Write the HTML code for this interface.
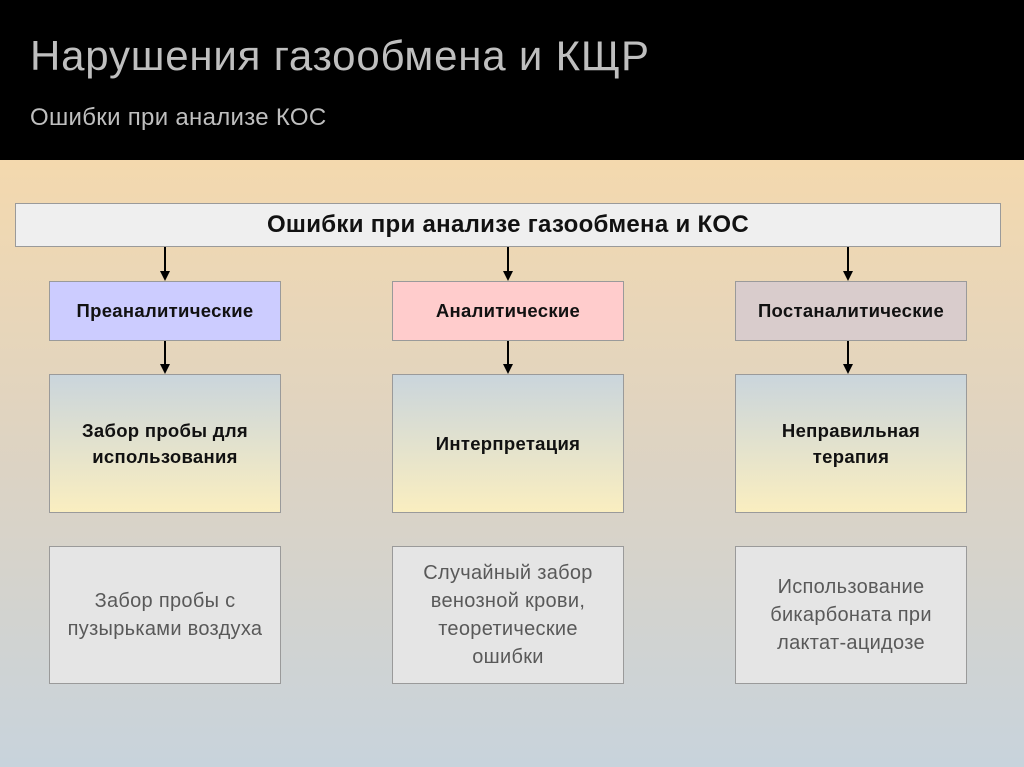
<!DOCTYPE html>
<html><head><meta charset="utf-8"><style>
body{margin:0;width:1024px;height:767px;overflow:hidden;font-family:"Liberation Sans","Noto Sans CJK SC",sans-serif;position:relative;background:linear-gradient(#f4d9ae 160px,#dcd3c4 470px,#c8d3dc 767px)}
.hdr{position:absolute;left:0;top:0;width:1024px;height:160px;background:#000}
.t1{position:absolute;left:30px;top:32px;font-size:42px;letter-spacing:0.8px;color:#bfbfbf}
.t2{position:absolute;left:30px;top:104px;font-size:24px;letter-spacing:0.3px;color:#bfbfbf}
.b{position:absolute;box-sizing:border-box;border:1.5px solid #9a9a9a;display:flex;align-items:center;justify-content:center;text-align:center}
.bold{font-weight:bold;color:#111;font-size:18.5px;line-height:26px;letter-spacing:0.3px}
.mid{background:linear-gradient(#cad5dc,#faeec0)}
.low{background:#e5e5e5;color:#595959;font-size:20px;line-height:28px;letter-spacing:0.3px}
.a{position:absolute;width:1.5px;background:#000}
.h{position:absolute;width:0;height:0;border-left:5px solid transparent;border-right:5px solid transparent;border-top:10px solid #000}
</style></head><body>
<div class="hdr"></div>
<div class="t1">Нарушения газообмена и КЩР</div>
<div class="t2">Ошибки при анализе КОС</div>
<div class="b bold" style="left:15px;top:203px;width:986px;height:44px;background:#efefef;font-size:24px">Ошибки при анализе газообмена и КОС</div>

<div class="a" style="left:164px;top:247px;height:26px"></div><div class="h" style="left:160px;top:271px"></div>
<div class="a" style="left:507px;top:247px;height:26px"></div><div class="h" style="left:503px;top:271px"></div>
<div class="a" style="left:847px;top:247px;height:26px"></div><div class="h" style="left:843px;top:271px"></div>

<div class="b bold" style="left:49px;top:281px;width:232px;height:60px;background:#ccccff">Преаналитические</div>
<div class="b bold" style="left:392px;top:281px;width:232px;height:60px;background:#ffcccc">Аналитические</div>
<div class="b bold" style="left:735px;top:281px;width:232px;height:60px;background:#d9cccc">Постаналитические</div>

<div class="a" style="left:164px;top:341px;height:25px"></div><div class="h" style="left:160px;top:364px"></div>
<div class="a" style="left:507px;top:341px;height:25px"></div><div class="h" style="left:503px;top:364px"></div>
<div class="a" style="left:847px;top:341px;height:25px"></div><div class="h" style="left:843px;top:364px"></div>

<div class="b bold mid" style="left:49px;top:374px;width:232px;height:139px">Забор пробы для<br>использования</div>
<div class="b bold mid" style="left:392px;top:374px;width:232px;height:139px">Интерпретация</div>
<div class="b bold mid" style="left:735px;top:374px;width:232px;height:139px">Неправильная<br>терапия</div>

<div class="b low" style="left:49px;top:546px;width:232px;height:138px">Забор пробы с<br>пузырьками воздуха</div>
<div class="b low" style="left:392px;top:546px;width:232px;height:138px">Случайный забор<br>венозной крови,<br>теоретические<br>ошибки</div>
<div class="b low" style="left:735px;top:546px;width:232px;height:138px">Использование<br>бикарбоната при<br>лактат-ацидозе</div>
</body></html>
